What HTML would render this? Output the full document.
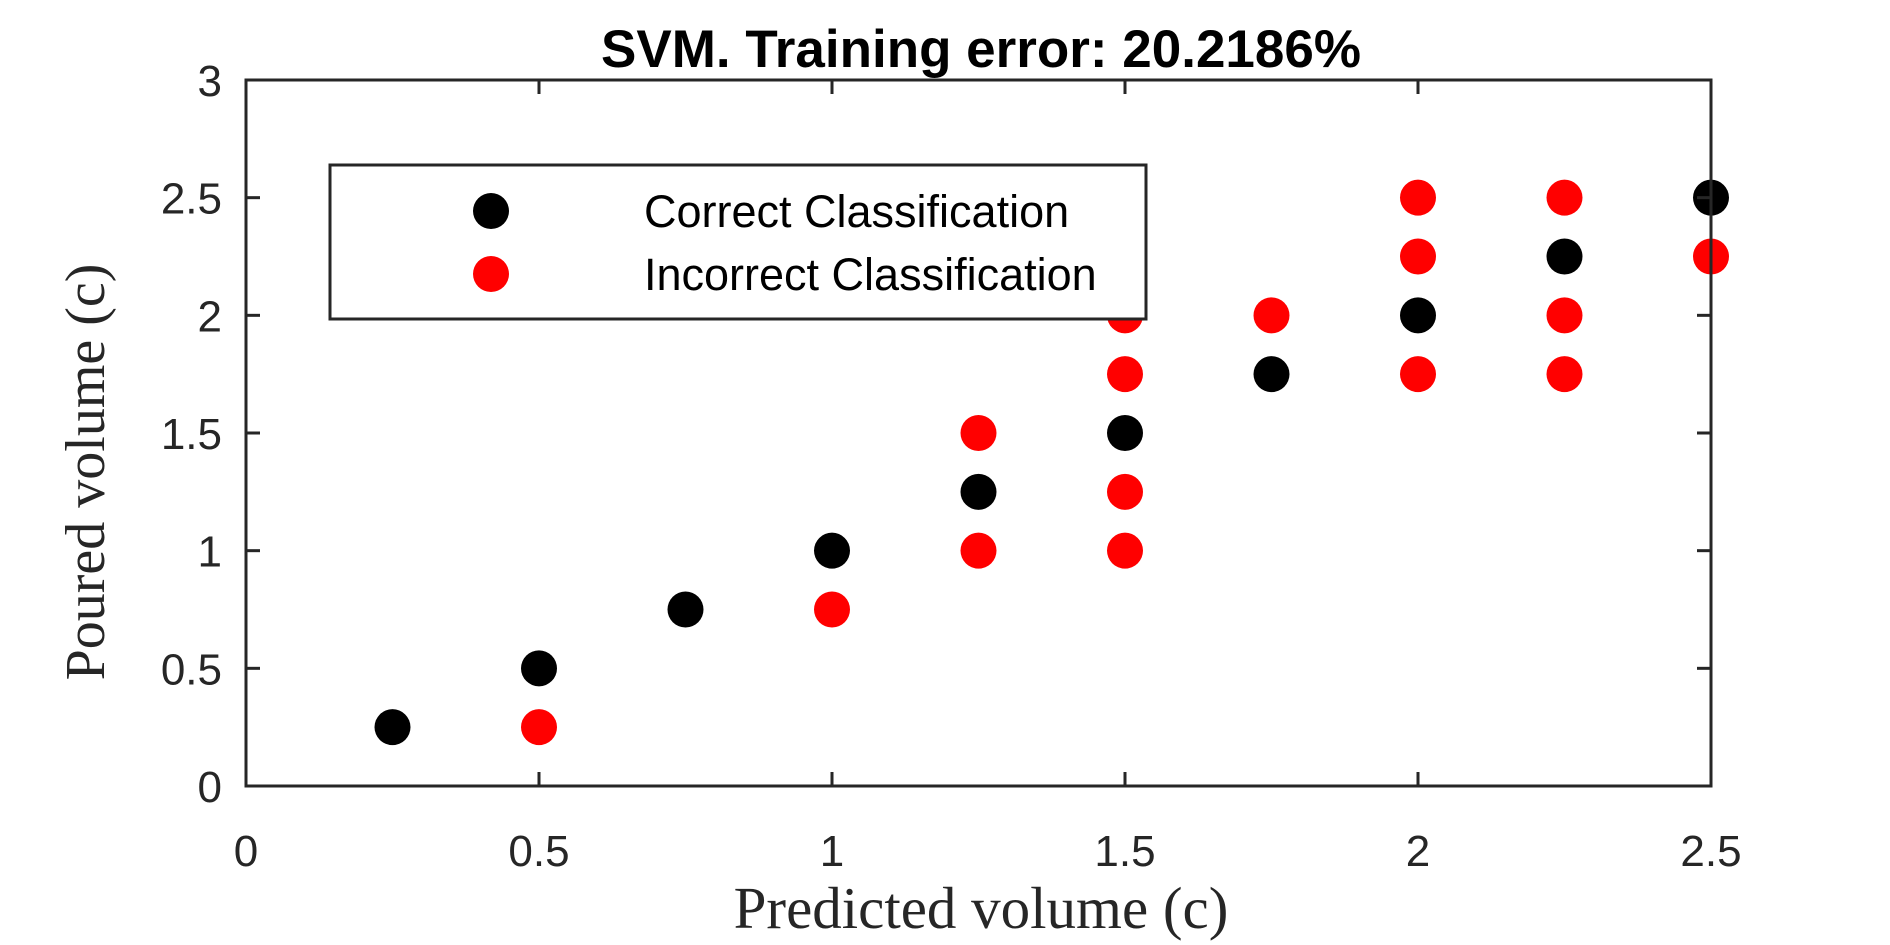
<!DOCTYPE html>
<html><head><meta charset="utf-8"><style>
body{margin:0;background:#fff;}
svg{display:block;}
</style></head><body>
<svg id="chart" width="1890" height="945" xmlns="http://www.w3.org/2000/svg">
<rect width="1890" height="945" fill="#fff"/>
<g id="marks"></g>
<g id="axes"></g>
<text x="981" y="67" text-anchor="middle" font-family="Liberation Sans, sans-serif" font-weight="bold" font-size="53" fill="#000">SVM. Training error: 20.2186%</text>
<text x="981" y="928" text-anchor="middle" font-family="Liberation Serif, serif" font-size="59" fill="#262626">Predicted volume (c)</text>
<text transform="translate(104,472) rotate(-90)" text-anchor="middle" font-family="Liberation Serif, serif" font-size="56" fill="#262626">Poured volume (c)</text>
<g>
<rect x="330" y="165" width="816" height="154" fill="#fff" stroke="#262626" stroke-width="3"/>
<circle cx="491" cy="211" r="18" fill="#000"/>
<text x="644" y="227" font-family="Liberation Sans, sans-serif" font-size="45" fill="#000">Correct Classification</text>
<circle cx="491" cy="274" r="18" fill="#f00"/>
<text x="644" y="290" font-family="Liberation Sans, sans-serif" font-size="45" fill="#000">Incorrect Classification</text>
</g>
</svg>
<script>
const xTicks=[0,0.5,1,1.5,2,2.5];
const yTicks=[0,0.5,1,1.5,2,2.5,3];
const xTickLabels=["0","0.5","1","1.5","2","2.5"];
const yTickLabels=["0","0.5","1","1.5","2","2.5","3"];
const correctX=[0.25,0.5,0.75,1,1.25,1.5,1.75,2,2.25,2.5];
const correctY=[0.25,0.5,0.75,1,1.25,1.5,1.75,2,2.25,2.5];
const incorrectX=[0.5,1,1.25,1.25,1.5,1.5,1.5,1.5,1.75,2,2,2,2.25,2.25,2.25,2.5];
const incorrectY=[0.25,0.75,1,1.5,1,1.25,1.75,2,2,1.75,2.25,2.5,1.75,2,2.5,2.25];
const L=246,R=1711,T=80,B=786;
const xs=v=>L+(v-0)/(2.5-0)*(R-L);
const ys=v=>B-(v-0)/(3-0)*(B-T);
const NS="http://www.w3.org/2000/svg";
const marks=document.getElementById('marks');
const axes=document.getElementById('axes');
function addPts(X,Y,color,name){
  for(let i=0;i<X.length;i++){
    const c=document.createElementNS(NS,'circle');
    c.setAttribute('cx',xs(X[i]));c.setAttribute('cy',ys(Y[i]));c.setAttribute('r',18);c.setAttribute('fill',color);
    
    
    marks.appendChild(c);
  }
}
addPts(correctX,correctY,'#000','correct-point');
addPts(incorrectX,incorrectY,'#f00','incorrect-point');
function line(x1,y1,x2,y2){
  const l=document.createElementNS(NS,'line');
  l.setAttribute('x1',x1);l.setAttribute('y1',y1);l.setAttribute('x2',x2);l.setAttribute('y2',y2);
  l.setAttribute('stroke','#262626');l.setAttribute('stroke-width',3);
  
  
  axes.appendChild(l);
}
const fr=document.createElementNS(NS,'rect');
fr.setAttribute('x',L);fr.setAttribute('y',T);fr.setAttribute('width',R-L);fr.setAttribute('height',B-T);
fr.setAttribute('fill','none');fr.setAttribute('stroke','#262626');fr.setAttribute('stroke-width',3);


axes.appendChild(fr);
xTicks.forEach((v,i)=>{
  const x=xs(v);
  line(x,B,x,B-14);line(x,T,x,T+14);
  const t=document.createElementNS(NS,'text');
  t.setAttribute('x',x);t.setAttribute('y',866);t.setAttribute('text-anchor','middle');
  t.setAttribute('font-family','Liberation Sans, sans-serif');t.setAttribute('font-size',44);t.setAttribute('fill','#262626');
  t.textContent=xTickLabels[i];
  
  
  axes.appendChild(t);
});
yTicks.forEach((v,i)=>{
  const y=ys(v);
  line(L,y,L+14,y);line(R,y,R-14,y);
  const t=document.createElementNS(NS,'text');
  t.setAttribute('x',222);t.setAttribute('y',y+16);t.setAttribute('text-anchor','end');
  t.setAttribute('font-family','Liberation Sans, sans-serif');t.setAttribute('font-size',44);t.setAttribute('fill','#262626');
  t.textContent=yTickLabels[i];
  
  
  axes.appendChild(t);
});
</script>
</body></html>
